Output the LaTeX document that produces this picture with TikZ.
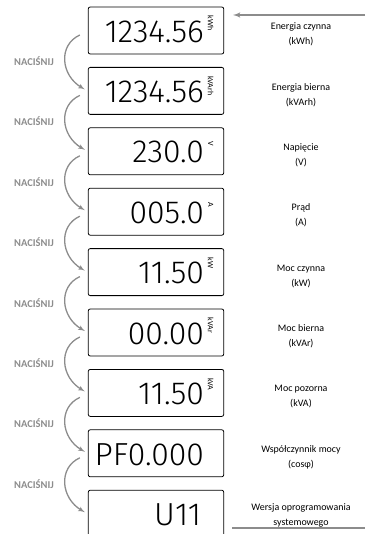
\documentclass[tikz,border=0pt]{standalone}
\usepackage{fontspec}
\setmainfont{Carlito}
\newfontfamily\lcdfont{Fira Sans Light}
\usetikzlibrary{arrows,positioning,calc}
\definecolor{keygray}{RGB}{140,140,140}
\tikzstyle{lcd} = [draw, rectangle, rounded corners=2bp, line width=0.8bp, minimum width=135.5bp, minimum height=47bp, inner sep=0pt]
\tikzstyle{reading} = [font=\lcdfont\fontsize{32}{32}\selectfont, inner sep=0pt, anchor=east]
\tikzstyle{unittext} = [font=\fontsize{8}{8}\selectfont, rotate=-90, anchor=west, inner sep=0pt]
\tikzstyle{desc} = [font=\fontsize{10}{15}\selectfont, align=center, inner sep=0pt, yshift=-4bp]
\tikzstyle{press} = [font=\bfseries\fontsize{10.5}{11}\selectfont, text=keygray, inner sep=0pt, yshift=-6.7bp]
\tikzstyle{presscurve} = [draw=keygray, line width=1.3bp, -latex']
\tikzstyle{feedline} = [draw=keygray, line width=1.5bp]

\begin{document}
\begin{tikzpicture}[x=1bp, y=-1bp]
    \useasboundingbox (0,0) rectangle (365,534);
    \clip (0,0) rectangle (365,534);
    \coordinate (descx) at (301,0);
    \coordinate (pressx) at (34,0);

    % displays
    \node [lcd] (d1) at (156,30.5) {};
    \node [lcd, below=12.6bp of d1] (d2) {};
    \node [lcd, below=12.6bp of d2] (d3) {};
    \node [lcd, below=12.6bp of d3] (d4) {};
    \node [lcd, below=12.6bp of d4] (d5) {};
    \node [lcd, below=12.6bp of d5] (d6) {};
    \node [lcd, below=12.6bp of d6] (d7) {};
    \node [lcd, below=12.6bp of d7] (d8) {};
    \node [lcd, below=12.6bp of d8] (d9) {};

    % readings
    \node [reading] (v1) at ([xshift=-20bp,yshift=-1bp]d1.east) {1234.56};
    \node [reading] (v2) at ([xshift=-20bp,yshift=-1bp]d2.east) {1234.56};
    \node [reading] (v3) at ([xshift=-20bp,yshift=-1bp]d3.east) {230.0};
    \node [reading] (v4) at ([xshift=-20bp,yshift=-1bp]d4.east) {005.0};
    \node [reading] (v5) at ([xshift=-20bp,yshift=-1bp]d5.east) {11.50};
    \node [reading] (v6) at ([xshift=-20bp,yshift=-1bp]d6.east) {00.00};
    \node [reading] (v7) at ([xshift=-20bp,yshift=-1bp]d7.east) {11.50};
    \node [reading] (v8) at ([xshift=-20bp,yshift=-1bp]d8.east) {PF0.000};
    \node [reading] (v9) at ([xshift=-23bp,yshift=-1bp]d9.east) {U11};

    % units
    \node [unittext] (u1) at ([xshift=-13.5bp,yshift=-9bp]d1.north east) {kWh};
    \node [unittext] (u2) at ([xshift=-13.5bp,yshift=-9bp]d2.north east) {kVArh};
    \node [unittext] (u3) at ([xshift=-13.5bp,yshift=-14bp]d3.north east) {V};
    \node [unittext] (u4) at ([xshift=-13.5bp,yshift=-14bp]d4.north east) {A};
    \node [unittext] (u5) at ([xshift=-13.5bp,yshift=-9bp]d5.north east) {kW};
    \node [unittext] (u6) at ([xshift=-13.5bp,yshift=-9bp]d6.north east) {kVAr};
    \node [unittext] (u7) at ([xshift=-13.5bp,yshift=-9bp]d7.north east) {kVA};

    % descriptions
    \node [desc] (l1) at (d1 -| descx) {Energia czynna\\(kWh)};
    \node [desc] (l2) at (d2 -| descx) {Energia bierna\\(kVArh)};
    \node [desc] (l3) at (d3 -| descx) {Napięcie\\(V)};
    \node [desc] (l4) at (d4 -| descx) {Prąd\\(A)};
    \node [desc] (l5) at (d5 -| descx) {Moc czynna\\(kW)};
    \node [desc] (l6) at (d6 -| descx) {Moc bierna\\(kVAr)};
    \node [desc] (l7) at (d7 -| descx) {Moc pozorna\\(kVA)};
    \node [desc] (l8) at (d8 -| descx) {Współczynnik mocy\\(cosφ)};
    \node [desc, yshift=2bp] (l9) at (d9 -| descx) {Wersja oprogramowania\\systemowego};

    % key presses
    \node [press] (p1) at (pressx |- d1.south) {NACIŚNIJ};
    \node [press] (p2) at (pressx |- d2.south) {NACIŚNIJ};
    \node [press] (p3) at (pressx |- d3.south) {NACIŚNIJ};
    \node [press] (p4) at (pressx |- d4.south) {NACIŚNIJ};
    \node [press] (p5) at (pressx |- d5.south) {NACIŚNIJ};
    \node [press] (p6) at (pressx |- d6.south) {NACIŚNIJ};
    \node [press] (p7) at (pressx |- d7.south) {NACIŚNIJ};
    \node [press] (p8) at (pressx |- d8.south) {NACIŚNIJ};

    \path [presscurve] ([xshift=-8bp,yshift=-4.5bp]d1.west) .. controls +(-22,10) and +(-24,-14) .. ([xshift=-3bp,yshift=1.5bp]d2.west);
    \path [presscurve] ([xshift=-8bp,yshift=-4.5bp]d2.west) .. controls +(-22,10) and +(-24,-14) .. ([xshift=-3bp,yshift=1.5bp]d3.west);
    \path [presscurve] ([xshift=-8bp,yshift=-4.5bp]d3.west) .. controls +(-22,10) and +(-24,-14) .. ([xshift=-3bp,yshift=1.5bp]d4.west);
    \path [presscurve] ([xshift=-8bp,yshift=-4.5bp]d4.west) .. controls +(-22,10) and +(-24,-14) .. ([xshift=-3bp,yshift=1.5bp]d5.west);
    \path [presscurve] ([xshift=-8bp,yshift=-4.5bp]d5.west) .. controls +(-22,10) and +(-24,-14) .. ([xshift=-3bp,yshift=1.5bp]d6.west);
    \path [presscurve] ([xshift=-8bp,yshift=-4.5bp]d6.west) .. controls +(-22,10) and +(-24,-14) .. ([xshift=-3bp,yshift=1.5bp]d7.west);
    \path [presscurve] ([xshift=-8bp,yshift=-4.5bp]d7.west) .. controls +(-22,10) and +(-24,-14) .. ([xshift=-3bp,yshift=1.5bp]d8.west);
    \path [presscurve] ([xshift=-8bp,yshift=-4.5bp]d8.west) .. controls +(-22,10) and +(-24,-14) .. ([xshift=-3bp,yshift=1.5bp]d9.west);

    % incoming and outgoing lines
    \coordinate (feed) at (365,15);
    \coordinate (feedend) at (233,15);
    \coordinate (tailstart) at (232,528);
    \coordinate (tailend) at (365,528);
    \path [feedline, -latex'] (feed) -- (feedend);
    \path [feedline] (tailstart) -- (tailend);
\end{tikzpicture}
\end{document}
